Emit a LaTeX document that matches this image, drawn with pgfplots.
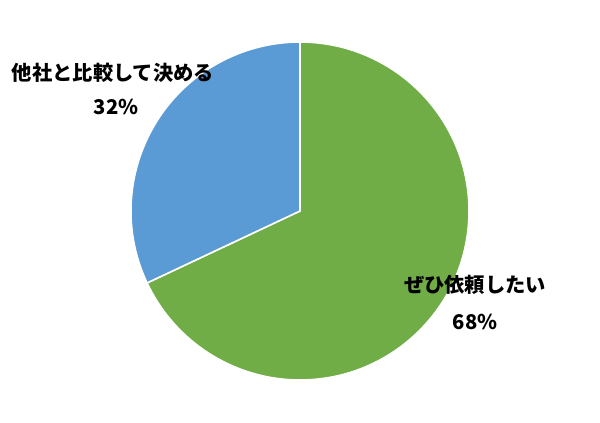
\documentclass[border=0pt]{standalone}
\usepackage{fontspec}
\usepackage{pgfplots}
\usepackage{pgfplotstable}
\pgfplotsset{compat=1.18}
\newfontfamily\cjk{Noto Sans CJK JP}
\definecolor{piegreen}{HTML}{70AD47}
\definecolor{pieblue}{HTML}{5B9BD5}

%% share of answers, percent
\pgfplotstableread{
name value
yes 68
compare 32
}\piedata

\begin{document}
\begin{tikzpicture}
\pgfplotstablegetelem{0}{value}\of\piedata \let\va\pgfplotsretval
\pgfplotstablegetelem{1}{value}\of\piedata \let\vb\pgfplotsretval
\pgfmathsetmacro{\ea}{90-3.6*\va}
\pgfmathsetmacro{\eb}{\ea-3.6*\vb}
\begin{axis}[
    width=450pt, height=316.5pt,
    scale only axis,
    xmin=0, xmax=600, ymin=0, ymax=422,
    hide axis,
    clip=false,
]
\path (axis cs:0,0) rectangle (axis cs:600,422);
%% slices, clockwise from the top
\filldraw[fill=piegreen, draw=white, line width=1.2pt]
    (axis cs:300,211) -- ++(90:126.75pt) arc[start angle=90, end angle=\ea, radius=126.75pt] -- cycle;
\filldraw[fill=pieblue, draw=white, line width=1.2pt]
    (axis cs:300,211) -- ++(\ea:126.75pt) arc[start angle=\ea, end angle=\eb, radius=126.75pt] -- cycle;
%% labels
\tikzset{lbl/.style={font=\cjk\bfseries\fontsize{15.2}{17}\selectfont}}
\node[lbl] at (axis cs:113,349) {他社と比較して決める};
\node[lbl] at (axis cs:116,315) {\vb\%};
\node[lbl] at (axis cs:475,137) {ぜひ依頼したい};
\node[lbl] at (axis cs:475,100) {\va\%};
\end{axis}
\end{tikzpicture}
\end{document}
